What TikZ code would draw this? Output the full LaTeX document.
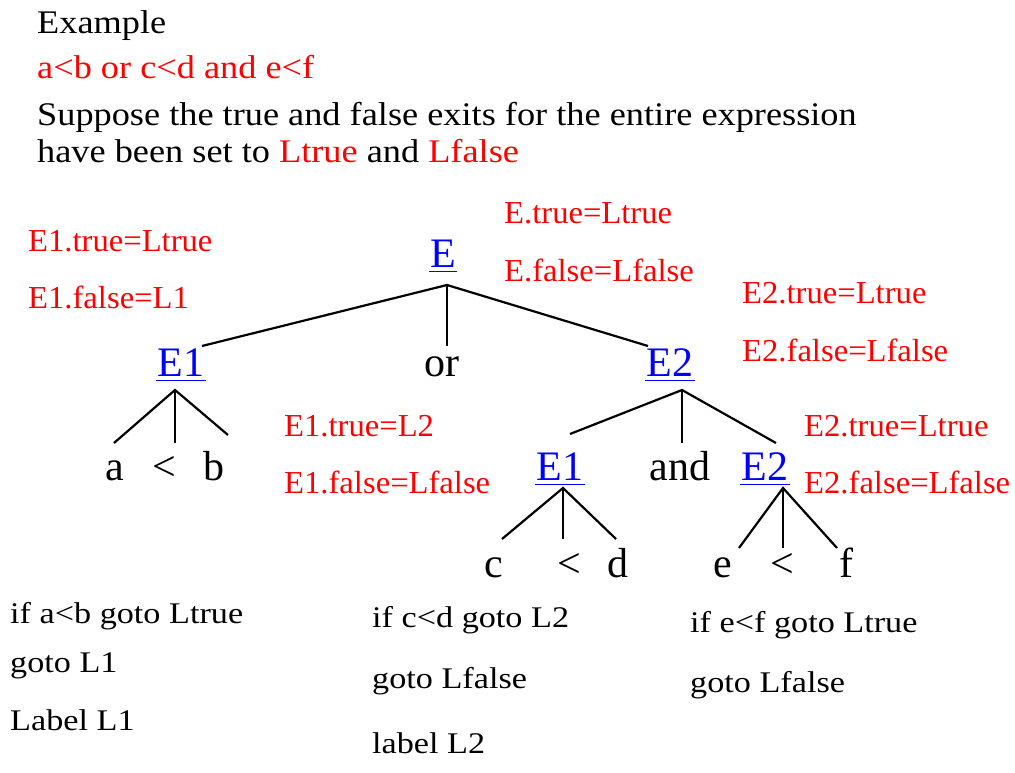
\documentclass[tikz,border=0pt]{standalone}
\usepackage{fontspec}
\setmainfont{Liberation Serif}
% widened serif faces for the different text groups
\newfontfamily\headfont{Liberation Serif}[FakeStretch=1.10]
\newfontfamily\attrfont{Liberation Serif}[FakeStretch=1.02]
\newfontfamily\treefont{Liberation Serif}
\newfontfamily\codefont{Liberation Serif}[FakeStretch=1.14]
\definecolor{attrred}{RGB}{255,0,0}
\definecolor{ntblue}{RGB}{0,0,255}

\begin{document}
\begin{tikzpicture}[x=1pt,y=-1pt,
  head/.style={anchor=base west, inner sep=0pt, font=\headfont\fontsize{33}{40}\selectfont},
  attr/.style={anchor=base west, inner sep=0pt, text=attrred, font=\attrfont\fontsize{32}{38}\selectfont},
  sym/.style={anchor=base, inner sep=0pt, font=\treefont\fontsize{42}{48}\selectfont},
  nonterm/.style={sym, text=ntblue, inner xsep=1pt},
  code/.style={anchor=base west, inner sep=0pt, font=\codefont\fontsize{30}{36}\selectfont},
  branch/.style={line width=2.2pt},
  uline/.style={draw=ntblue, line width=1.6pt}]
\useasboundingbox (0,0) rectangle (1015,773);

% heading
\node[head] (ex) at (37,34) {Example};
\node[head, text=attrred] (expr) at (37,79) {a<b or c<d and e<f};
\node[head] (sup1) at (37,126) {Suppose the true and false exits for the entire expression};
\node[head] (sup2) at (37,163) {have been set to \textcolor{attrred}{Ltrue} and \textcolor{attrred}{Lfalse}};

% inherited attributes
\node[attr] (a1) at (28,251) {E1.true=Ltrue};
\node[attr] (a2) at (28,308) {E1.false=L1};
\node[attr] (a3) at (504,223) {E.true=Ltrue};
\node[attr] (a4) at (504,281) {E.false=Lfalse};
\node[attr] (a5) at (742,303) {E2.true=Ltrue};
\node[attr] (a6) at (742,361) {E2.false=Lfalse};
\node[attr] (a7) at (284,436) {E1.true=L2};
\node[attr] (a8) at (284,493) {E1.false=Lfalse};
\node[attr] (a9) at (804,436) {E2.true=Ltrue};
\node[attr] (a10) at (804,493) {E2.false=Lfalse};

% parse tree nodes
\node[nonterm] (E) at (443,267) {E};
\node[nonterm] (E1) at (181,376) {E1};
\node[sym] (or) at (442,376) {or};
\node[nonterm] (E2) at (670,376) {E2};
\node[sym] (a) at (115,480) {a};
\node[sym] (lt1) at (164,480) {<};
\node[sym] (b) at (214,480) {b};
\node[nonterm] (E1b) at (560,480) {E1};
\node[sym] (and) at (680,480) {and};
\node[nonterm] (E2b) at (765,480) {E2};
\node[sym] (c) at (494,577) {c};
\node[sym] (lt2) at (569,577) {<};
\node[sym] (d) at (618,577) {d};
\node[sym] (e) at (723,577) {e};
\node[sym] (lt3) at (782,577) {<};
\node[sym] (f) at (846,577) {f};

% underlines of the nonterminals
\foreach \n in {E,E1,E2,E1b,E2b}
  \draw[uline] ([yshift=-4.5pt]\n.base west) -- ([yshift=-4.5pt]\n.base east);

% branch points and branch ends
\coordinate (E-fork) at (447,285);
\coordinate (E-E1) at (202,346);
\coordinate (E-or) at (447,346);
\coordinate (E-E2) at (648,346);
\coordinate (E1-fork) at (175,390);
\coordinate (E1-a) at (114,443);
\coordinate (E1-lt) at (175,443);
\coordinate (E1-b) at (228,435);
\coordinate (E2-fork) at (682,390);
\coordinate (E2-E1) at (570,434);
\coordinate (E2-and) at (682,443);
\coordinate (E2-E2) at (776,443);
\coordinate (E1b-fork) at (563,488);
\coordinate (E1b-c) at (502,539);
\coordinate (E1b-lt) at (563,539);
\coordinate (E1b-d) at (616,539);
\coordinate (E2b-fork) at (783,488);
\coordinate (E2b-e) at (739,548);
\coordinate (E2b-lt) at (783,548);
\coordinate (E2b-f) at (837,548);

\draw[branch] (E-E1) -- (E-fork) -- (E-E2);
\draw[branch] (E-fork) -- (E-or);
\draw[branch] (E1-a) -- (E1-fork) -- (E1-b);
\draw[branch] (E1-fork) -- (E1-lt);
\draw[branch] (E2-E1) -- (E2-fork) -- (E2-E2);
\draw[branch] (E2-fork) -- (E2-and);
\draw[branch] (E1b-c) -- (E1b-fork) -- (E1b-d);
\draw[branch] (E1b-fork) -- (E1b-lt);
\draw[branch] (E2b-e) -- (E2b-fork) -- (E2b-f);
\draw[branch] (E2b-fork) -- (E2b-lt);

% generated code
\node[code] (k1) at (10,623) {if a<b goto Ltrue};
\node[code] (k2) at (10,672) {goto L1};
\node[code] (k3) at (10,730) {Label L1};
\node[code] (k4) at (372,627) {if c<d goto L2};
\node[code] (k5) at (372,688) {goto Lfalse};
\node[code] (k6) at (372,753) {label L2};
\node[code] (k7) at (690,632) {if e<f goto Ltrue};
\node[code] (k8) at (690,692) {goto Lfalse};
\end{tikzpicture}
\end{document}
